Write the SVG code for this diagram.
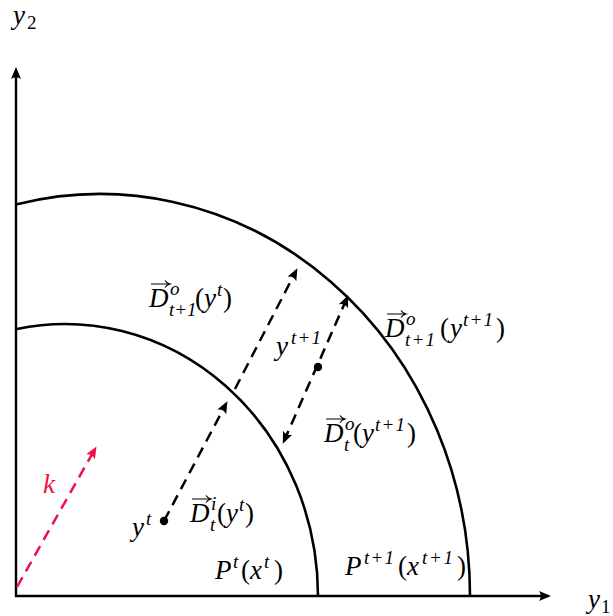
<svg xmlns="http://www.w3.org/2000/svg" width="613" height="616" viewBox="0 0 613 616">
<style>
.t { font-family: "Liberation Serif", "Times New Roman", serif; font-size: 27px; fill: #000; }
.i { font-style: italic; }
.s { font-size: 19px; }
.ax { stroke: #000; stroke-width: 2.4; fill: none; }
.cv { stroke: #000; stroke-width: 2.6; fill: none; }
.dl { stroke: #000; stroke-width: 2.5; fill: none; stroke-dasharray: 11 7; }
.dr { stroke: #ee1148; stroke-width: 2.5; fill: none; stroke-dasharray: 11 7; }
.ov { stroke: #000; stroke-width: 1.2; fill: none; }
</style>
<defs>
<marker id="ah" viewBox="0 0 12 10" refX="9" refY="5" markerWidth="12" markerHeight="10" markerUnits="userSpaceOnUse" orient="auto-start-reverse">
<path d="M12 5 L0 0 Q3.5 5 0 10 Z" fill="#000"/>
</marker>
<marker id="ahr" viewBox="0 0 12 10" refX="9" refY="5" markerWidth="12" markerHeight="10" markerUnits="userSpaceOnUse" orient="auto">
<path d="M12 5 L0 0 Q3.5 5 0 10 Z" fill="#ee1148"/>
</marker>
</defs>

<g id="axes">
<path class="ax" d="M16 597 V70" marker-end="url(#ah)"/>
<path class="ax" d="M15 596 H548" marker-end="url(#ah)"/>
</g>

<g id="curves">
<path id="inner" class="cv" d="M17 329 A253 272 0 0 1 318 596"/>
<path id="outer" class="cv" d="M17 204.2 A370 402 0 0 1 470 596"/>
</g>

<g id="connectors">
<path class="dl" d="M164 521 L226 404" marker-end="url(#ah)"/>
<path class="dl" d="M235 389 L296 271" marker-end="url(#ah)"/>
<path class="dl" d="M284 441 L347 298" marker-start="url(#ah)" marker-end="url(#ah)"/>
<path class="dr" d="M17 587 L95 449" marker-end="url(#ahr)"/>
</g>

<g id="points">
<circle cx="164" cy="521" r="4.2" fill="#000"/>
<circle cx="318" cy="367" r="4.2" fill="#000"/>
</g>

<g id="label-y2">
<text class="t"><tspan class="i" x="13" y="24">y</tspan><tspan class="s" x="27" y="29">2</tspan></text>
</g>
<g id="label-y1">
<text class="t"><tspan class="i" x="588" y="608">y</tspan><tspan class="s" x="601" y="613">1</tspan></text>
</g>
<g id="label-k">
<text class="t i" x="43" y="493" style="fill:#ee1148">k</text>
</g>

<g id="label-Do-t1-yt">
<path class="ov" d="M151 284 H169 M165 280.5 Q166.5 283 170 284 Q166.5 285 165 287.5"/>
<text class="t"><tspan class="i" x="149" y="307">D</tspan><tspan class="i s" x="170" y="295">o</tspan><tspan class="i s" x="169" y="316">t+1</tspan><tspan x="195" y="307">(</tspan><tspan class="i" x="204" y="307">y</tspan><tspan class="i s" x="217" y="296">t</tspan><tspan x="223" y="307">)</tspan></text>
</g>

<g id="label-Do-t1-yt1">
<path class="ov" d="M387 314 H405 M401 310.5 Q402.5 313 406 314 Q402.5 315 401 317.5"/>
<text class="t"><tspan class="i" x="385" y="337">D</tspan><tspan class="i s" x="406" y="325">o</tspan><tspan class="i s" x="405" y="346" textLength="30" lengthAdjust="spacing">t+1</tspan><tspan x="440" y="337">(</tspan><tspan class="i" x="450" y="337">y</tspan><tspan class="i s" x="463" y="326" textLength="30" lengthAdjust="spacing">t+1</tspan><tspan x="496" y="337">)</tspan></text>
</g>

<g id="label-yt1">
<text class="t"><tspan class="i" x="276" y="355">y</tspan><tspan class="i s" x="291" y="344" textLength="30" lengthAdjust="spacing">t+1</tspan></text>
</g>

<g id="label-Do-t-yt1">
<path class="ov" d="M326 419 H344 M340 415.5 Q341.5 418 345 419 Q341.5 420 340 422.5"/>
<text class="t"><tspan class="i" x="324" y="442">D</tspan><tspan class="i s" x="345" y="430">o</tspan><tspan class="i s" x="344" y="451">t</tspan><tspan x="353" y="442">(</tspan><tspan class="i" x="362" y="442">y</tspan><tspan class="i s" x="375" y="431" textLength="30" lengthAdjust="spacing">t+1</tspan><tspan x="407" y="442">)</tspan></text>
</g>

<g id="label-Di-t-yt">
<path class="ov" d="M192 499 H210 M206 495.5 Q207.5 498 211 499 Q207.5 500 206 502.5"/>
<text class="t"><tspan class="i" x="190" y="522">D</tspan><tspan class="i s" x="211" y="510">i</tspan><tspan class="i s" x="210" y="531">t</tspan><tspan x="217" y="522">(</tspan><tspan class="i" x="226" y="522">y</tspan><tspan class="i s" x="239" y="511">t</tspan><tspan x="245" y="522">)</tspan></text>
</g>

<g id="label-yt">
<text class="t"><tspan class="i" x="132" y="536">y</tspan><tspan class="i s" x="146" y="525">t</tspan></text>
</g>

<g id="label-Pt">
<text class="t"><tspan class="i" x="215" y="579">P</tspan><tspan class="i s" x="233" y="568">t</tspan><tspan x="241" y="579">(</tspan><tspan class="i" x="250" y="579">x</tspan><tspan class="i s" x="264" y="568">t</tspan><tspan x="274" y="579">)</tspan></text>
</g>

<g id="label-Pt1">
<text class="t"><tspan class="i" x="345" y="575">P</tspan><tspan class="i s" x="364" y="564" textLength="30" lengthAdjust="spacing">t+1</tspan><tspan x="398" y="575">(</tspan><tspan class="i" x="407" y="575">x</tspan><tspan class="i s" x="422" y="564" textLength="31" lengthAdjust="spacing">t+1</tspan><tspan x="457" y="575">)</tspan></text>
</g>
</svg>
